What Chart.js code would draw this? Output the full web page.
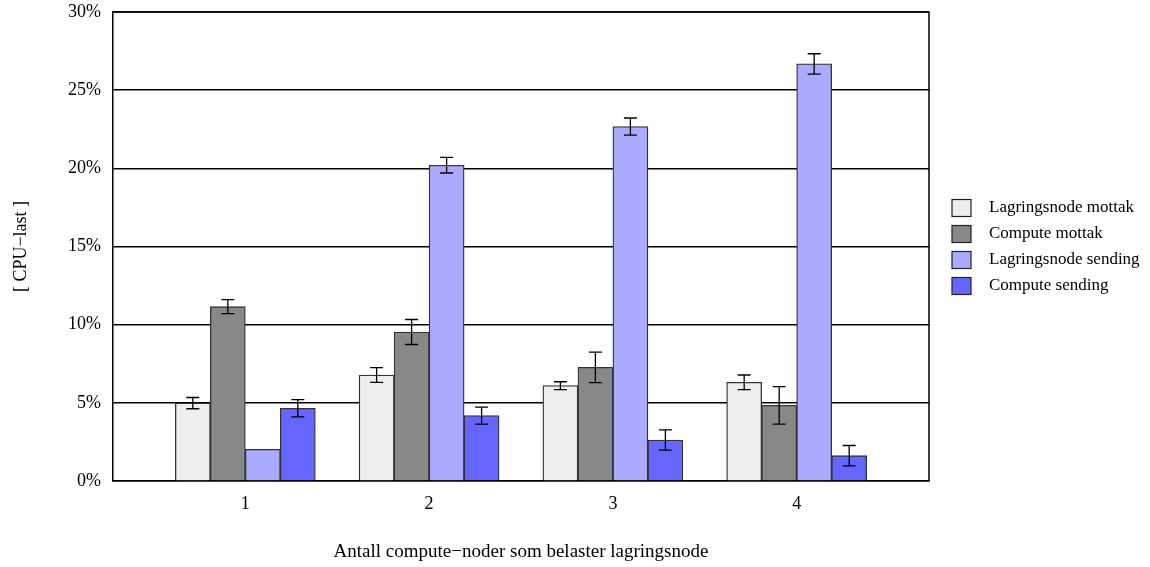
<!DOCTYPE html>
<html lang="no">
<head>
<meta charset="UTF-8">
<title>CPU-last</title>
<script src="https://cdn.jsdelivr.net/npm/chart.js"></script>
<style>
  html, body { margin: 0; padding: 0; background: #fff; }
  #wrap { width: 1150px; height: 567px; }
</style>
</head>
<body>
<div id="wrap"><canvas id="cpuChart"></canvas></div>
<script>
// antall compute-noder (x-akse)
const nodeCounts = [1, 2, 3, 4];
const xTicks = [1, 2, 3, 4];
const yTicks = [0, 5, 10, 15, 20, 25, 30];

const seriesNames = ['Lagringsnode mottak', 'Compute mottak', 'Lagringsnode sending', 'Compute sending'];
const seriesColors = ['#eeeeee', '#888888', '#aaaaff', '#6666ff'];

// CPU-last i prosent
const lagrMottak = [4.98, 6.78, 6.10, 6.31];
const compMottak = [11.15, 9.53, 7.27, 4.84];
const lagrSending = [2.03, 20.2, 22.67, 26.68];
const compSending = [4.65, 4.18, 2.62, 1.62];

// feilmarginer (+/-)
const lagrMottakErr = [0.36, 0.47, 0.25, 0.47];
const compMottakErr = [0.45, 0.80, 0.98, 1.20];
const lagrSendingErr = [0.0, 0.50, 0.55, 0.65];
const compSendingErr = [0.55, 0.54, 0.65, 0.65];

const allValues = [lagrMottak, compMottak, lagrSending, compSending];
const allErrors = [lagrMottakErr, compMottakErr, lagrSendingErr, compSendingErr];

const serif = '"Liberation Serif", "DejaVu Serif", serif';

// feilstolper
const errorBars = {
  id: 'errorBars',
  afterDatasetsDraw(chart) {
    const ctx = chart.ctx;
    const y = chart.scales.y;
    ctx.save();
    ctx.strokeStyle = '#000';
    ctx.lineWidth = 1.3;
    chart.data.datasets.forEach((ds, i) => {
      const meta = chart.getDatasetMeta(i);
      meta.data.forEach((bar, j) => {
        const e = ds.errors[j];
        if (!e) return;
        const v = ds.data[j].y;
        const yTop = y.getPixelForValue(v + e);
        const yBot = y.getPixelForValue(v - e);
        ctx.beginPath();
        ctx.moveTo(bar.x, yTop); ctx.lineTo(bar.x, yBot);
        ctx.moveTo(bar.x - 6.5, yTop); ctx.lineTo(bar.x + 6.5, yTop);
        ctx.moveTo(bar.x - 6.5, yBot); ctx.lineTo(bar.x + 6.5, yBot);
        ctx.stroke();
      });
    });
    ctx.restore();
  }
};

// ramme + forklaring
const frameAndLegend = {
  id: 'frameAndLegend',
  afterDraw(chart) {
    const ctx = chart.ctx;
    const a = chart.chartArea;
    ctx.save();
    ctx.strokeStyle = '#000';
    ctx.lineWidth = 1.5;
    ctx.beginPath();
    ctx.moveTo(a.left, a.top); ctx.lineTo(a.right, a.top); ctx.lineTo(a.right, a.bottom);
    ctx.stroke();

    ctx.font = '17px ' + serif;
    ctx.textBaseline = 'middle';
    chart.data.datasets.forEach((ds, i) => {
      const cy = 208 + i * 26;
      ctx.fillStyle = ds.backgroundColor;
      ctx.fillRect(952, cy - 8.5, 19, 17);
      ctx.strokeStyle = '#222';
      ctx.lineWidth = 1.2;
      ctx.strokeRect(952, cy - 8.5, 19, 17);
      ctx.fillStyle = '#000';
      ctx.fillText(ds.label, 989, cy);
    });
    ctx.restore();
  }
};

const datasets = seriesNames.map((name, i) => ({
  label: name,
  data: nodeCounts.map((n, j) => ({ x: n, y: allValues[i][j] })),
  errors: allErrors[i],
  backgroundColor: seriesColors[i],
  borderColor: '#333',
  borderWidth: 1.3,
  barThickness: 35
}));

new Chart(document.getElementById('cpuChart'), {
  type: 'bar',
  data: { datasets },
  options: {
    responsive: true,
    maintainAspectRatio: false,
    animation: false,
    layout: { autoPadding: false, padding: { top: 12, right: 221, left: 0, bottom: 0 } },
    plugins: {
      legend: { display: false },
      tooltip: { enabled: false }
    },
    scales: {
      x: {
        type: 'linear',
        offset: false,
        min: 0.28,
        max: 4.72,
        afterBuildTicks: s => { s.ticks = xTicks.map(v => ({ value: v })); },
        afterFit: s => { s.height = 86; s.paddingLeft = 0; s.paddingRight = 0; },
        grid: { display: false, drawTicks: false },
        border: { color: '#000', width: 1.5 },
        ticks: { color: '#000', padding: 12, font: { family: serif, size: 18 } },
        title: {
          display: true,
          text: 'Antall compute\u2212noder som belaster lagringsnode',
          color: '#000',
          font: { family: serif, size: 19 },
          padding: { top: 0, bottom: 4 }
        }
      },
      y: {
        min: 0,
        max: 30,
        z: 1,
        afterBuildTicks: s => { s.ticks = yTicks.map(v => ({ value: v })); },
        afterFit: s => { s.width = 113; s.paddingTop = 0; s.paddingBottom = 0; },
        grid: { color: '#000', lineWidth: 1.5, drawTicks: false },
        border: { color: '#000', width: 1.5 },
        ticks: {
          color: '#000',
          padding: 12,
          font: { family: serif, size: 18 },
          callback: v => v + '%'
        },
        title: {
          display: true,
          text: '[ CPU\u2212last ]',
          color: '#000',
          font: { family: serif, size: 18 },
          padding: { top: 10, bottom: 0 }
        }
      }
    }
  },
  plugins: [errorBars, frameAndLegend]
});
</script>
</body>
</html>
